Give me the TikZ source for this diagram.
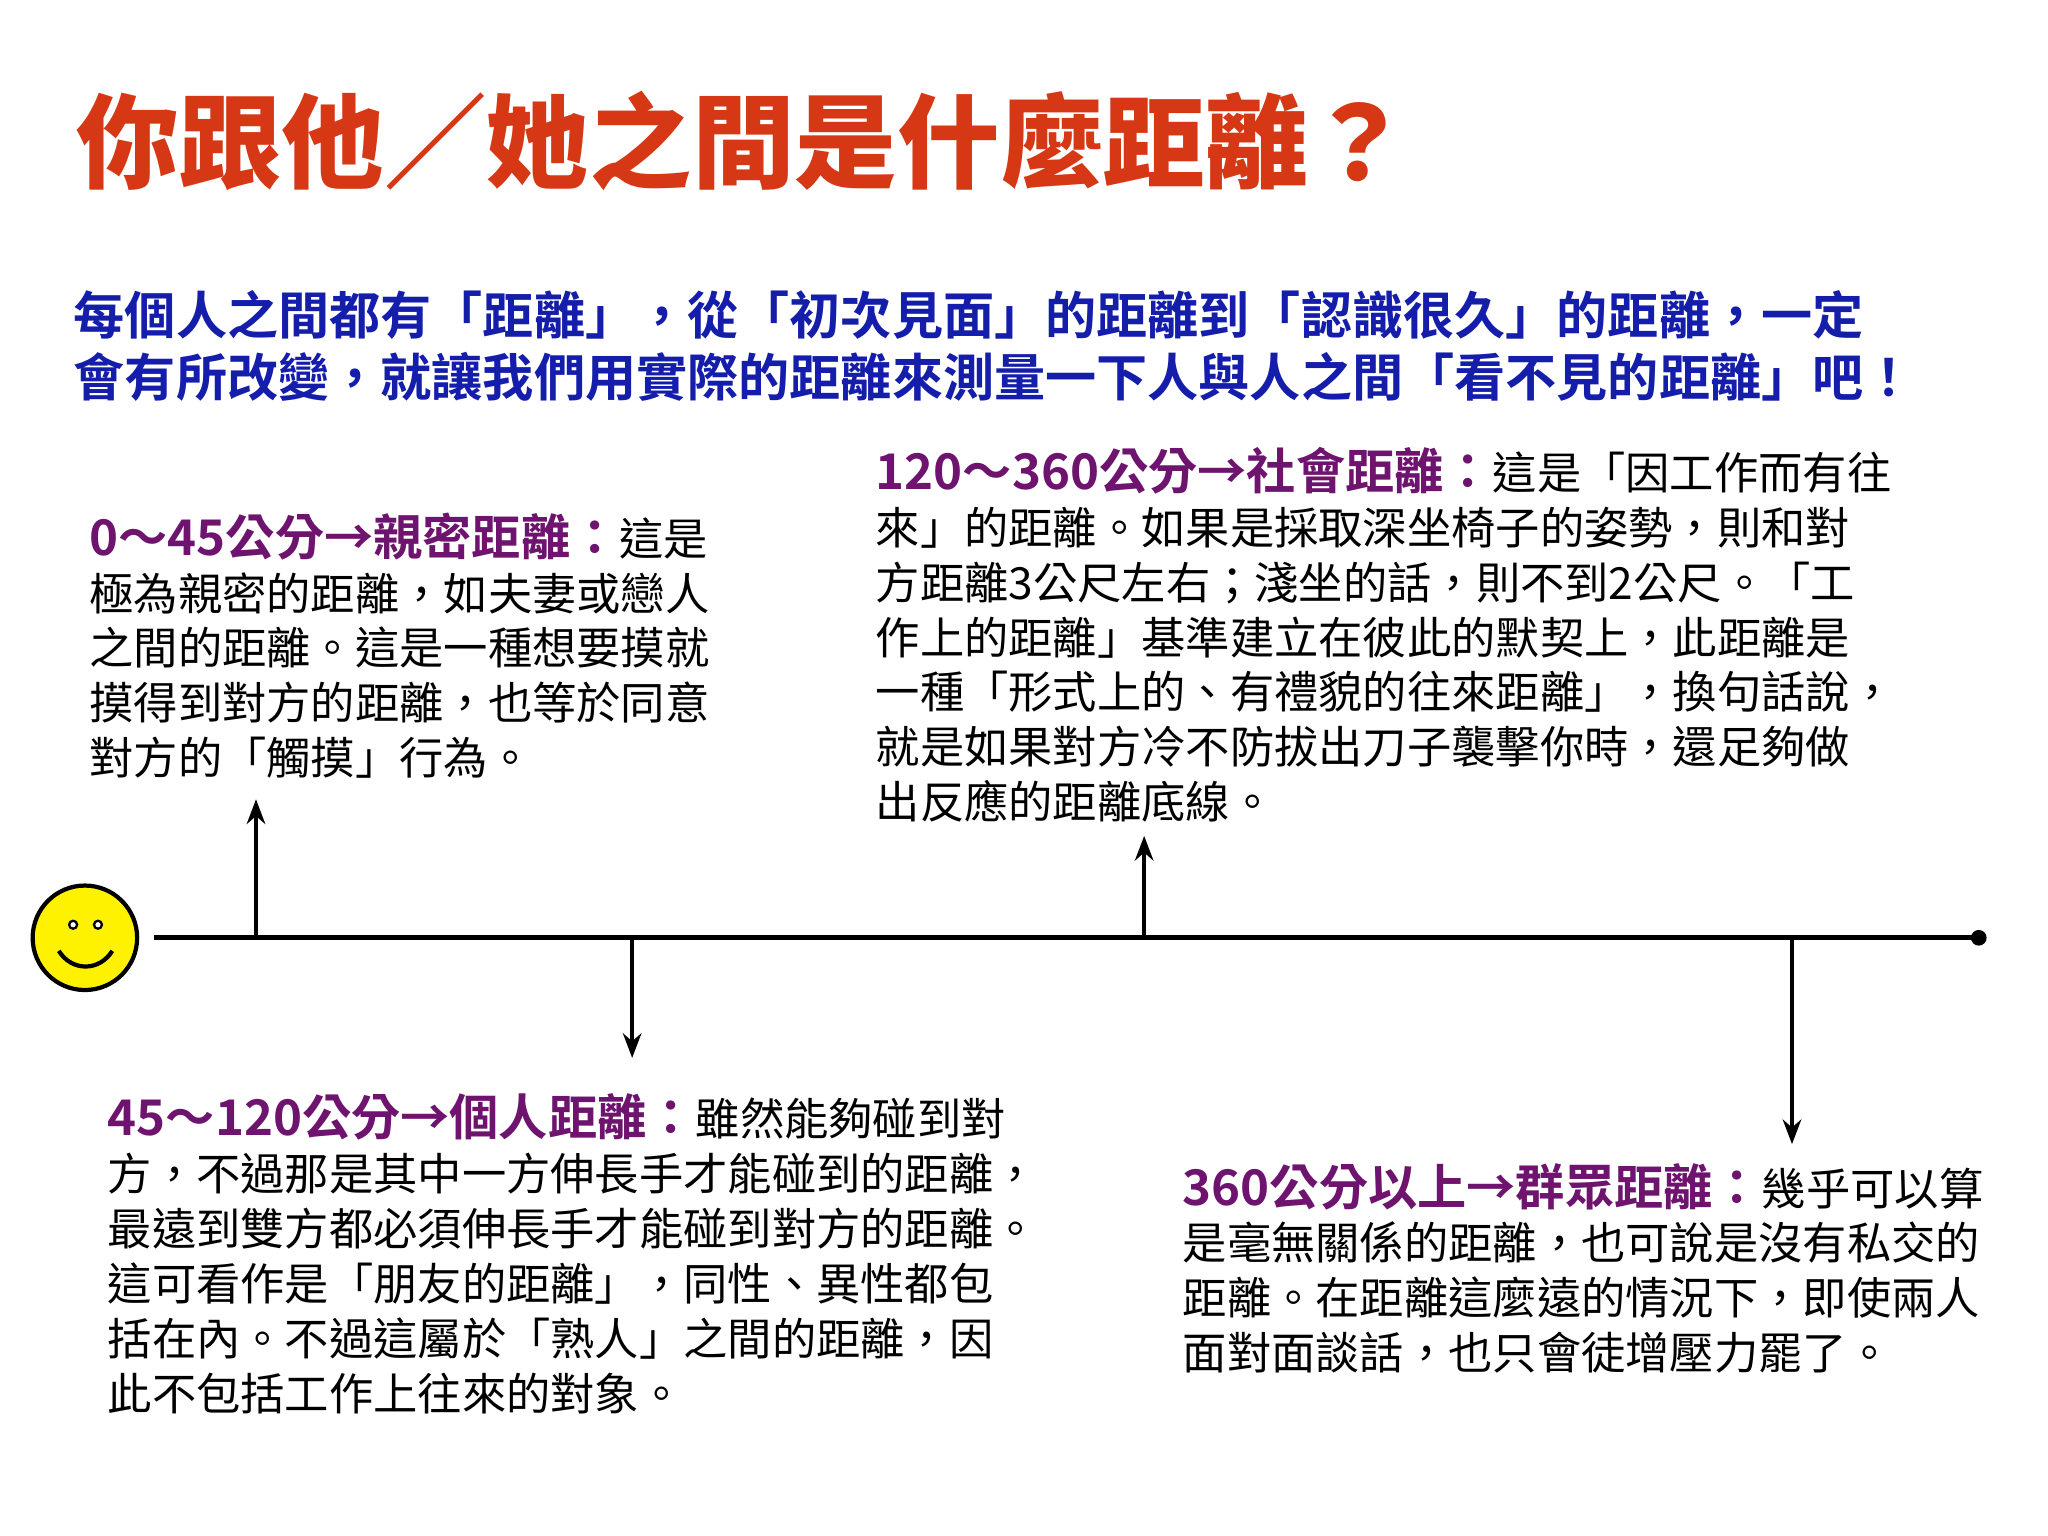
\documentclass[tikz,border=0pt]{standalone}
\usepackage{fontspec}
\setmainfont{Noto Sans CJK TC}
\newfontfamily\cjkb[BoldFont={Noto Sans CJK TC Black}]{Noto Sans CJK TC Bold}
\definecolor{ttl}{RGB}{214,55,20}
\definecolor{blu}{RGB}{20,30,170}
\definecolor{pur}{RGB}{110,20,110}
\tikzset{body/.style={anchor=north west,align=left,inner sep=0pt,font=\fontsize{12.6pt}{15.6pt}\selectfont},
arr/.style={-{Stealth[length=7pt]},line width=1.2pt}}
\usetikzlibrary{arrows.meta}
\newcommand{\hdx}[1]{{\cjkb\fontsize{14pt}{15pt}\selectfont\color{pur}#1}}
\begin{document}
\begin{tikzpicture}[x=0.013061cm,y=-0.013061cm]
\useasboundingbox (0,0) rectangle (1568,1176);
\fill[white] (0,0) rectangle (1568,1176);
\node[anchor=west,inner sep=0pt,text=ttl,font=\cjkb\bfseries\fontsize{29.2pt}{31pt}\selectfont] (title) at (58,108) {你跟他／她之間是什麼距離？};
\node[body,text=blu,font=\cjkb\fontsize{14.55pt}{17.5pt}\selectfont] (intro) at (56,222) {每個人之間都有「距離」，從「初次見面」的距離到「認識很久」的距離，一定\\會有所改變，就讓我們用實際的距離來測量一下人與人之間「看不見的距離」吧！};
\node[body] (t1) at (68,392) {\hdx{0～45公分→親密距離：}這是\\極為親密的距離，如夫妻或戀人\\之間的距離。這是一種想要摸就\\摸得到對方的距離，也等於同意\\對方的「觸摸」行為。};
\node[body] (t3) at (670,342) {\hdx{120～360公分→社會距離：}這是「因工作而有往\\來」的距離。如果是採取深坐椅子的姿勢，則和對\\方距離3公尺左右；淺坐的話，則不到2公尺。「工\\作上的距離」基準建立在彼此的默契上，此距離是\\一種「形式上的、有禮貌的往來距離」，換句話說，\\就是如果對方冷不防拔出刀子襲擊你時，還足夠做\\出反應的距離底線。};
\node[body] (t2) at (82,837) {\hdx{45～120公分→個人距離：}雖然能夠碰到對\\方，不過那是其中一方伸長手才能碰到的距離，\\最遠到雙方都必須伸長手才能碰到對方的距離。\\這可看作是「朋友的距離」，同性、異性都包\\括在內。不過這屬於「熟人」之間的距離，因\\此不包括工作上往來的對象。};
\node[body] (t4) at (905,890) {\hdx{360公分以上→群眾距離：}幾乎可以算\\是毫無關係的距離，也可說是沒有私交的\\距離。在距離這麼遠的情況下，即使兩人\\面對面談話，也只會徒增壓力罷了。};
\node[circle,draw,line width=1.2pt,fill=yellow,minimum size=80*0.013061cm,inner sep=0pt] (face) at (65,718) {};
\fill (56,708) circle[radius=4]; \fill (75,708) circle[radius=4];
\fill[white] (56,708) circle[radius=2]; \fill[white] (75,708) circle[radius=2];
\draw[line width=1.2pt] (45,728) .. controls (55,744) and (76,744) .. (86,728);
\coordinate (ls) at (118,718); \coordinate (le) at (1515,718);
\draw[line width=1.5pt] (ls) -- (le);
\fill (le) circle[radius=6];
\coordinate (a1) at (196,718); \coordinate (b1) at (196,612);
\coordinate (a2) at (484,718); \coordinate (b2) at (484,810);
\coordinate (a3) at (876,718); \coordinate (b3) at (876,640);
\coordinate (a4) at (1372,718); \coordinate (b4) at (1372,876);
\foreach \i in {1,2,3,4}{\draw[arr] (a\i) -- (b\i);}
\end{tikzpicture}
\end{document}
